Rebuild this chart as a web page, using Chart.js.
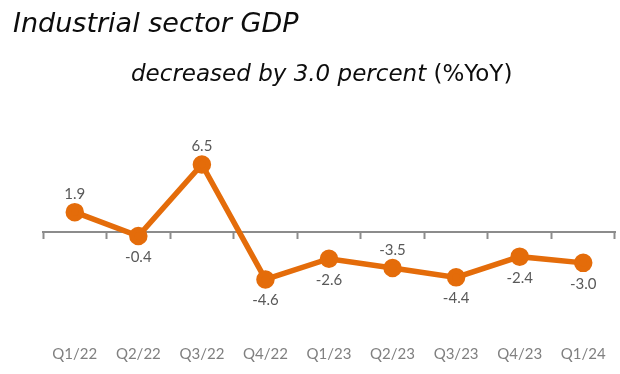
<!DOCTYPE html>
<html>
<head>
<meta charset="utf-8">
<script src="https://cdn.jsdelivr.net/npm/chart.js@4.4.1/dist/chart.umd.min.js"></script>
<style>
  html, body { margin: 0; padding: 0; background: #fff; }
  #wrap { position: relative; width: 620px; height: 374px; overflow: hidden; }
  #chart { position: absolute; left: 0; top: 0; }
  .t1 { position: absolute; left: 13px; top: 9px; font: oblique 27px/1 "DejaVu Sans", sans-serif; color: #0d0d0d; white-space: nowrap; }
  .t2 { position: absolute; left: 131px; top: 62px; font: oblique 23px/1 "DejaVu Sans", sans-serif; color: #0d0d0d; white-space: nowrap; }
  .t2 span { font-style: normal; }
</style>
</head>
<body>
<div id="wrap">
  <canvas id="chart" width="620" height="374"></canvas>
  <div class="t1">Industrial sector GDP</div>
  <div class="t2">decreased by 3.0 percent <span>(%YoY)</span></div>
</div>
<script>
var quarters = ['Q1/22', 'Q2/22', 'Q3/22', 'Q4/22', 'Q1/23', 'Q2/23', 'Q3/23', 'Q4/23', 'Q1/24'];
var gdpYoY = [1.9, -0.4, 6.5, -4.6, -2.6, -3.5, -4.4, -2.4, -3.0];
var labelSide = ['above', 'below', 'above', 'below', 'below', 'above', 'below', 'below', 'below'];

var orange = '#E46C0A';
var axisGrey = '#8c8c8c';

// value labels next to each point (no datalabels plugin here)
var pointLabels = {
    id: 'pointLabels',
    afterDatasetsDraw: function (chart) {
        var ctx = chart.ctx;
        var meta = chart.getDatasetMeta(0);
        ctx.save();
        ctx.font = '15px Lato, sans-serif';
        ctx.fillStyle = '#595959';
        ctx.textAlign = 'center';
        ctx.textBaseline = 'middle';
        meta.data.forEach(function (pt, i) {
            var dy = labelSide[i] == 'above' ? -18 : 21;
            ctx.fillText(gdpYoY[i].toFixed(1), pt.x, pt.y + dy);
        });
        ctx.restore();
    }
};

var chart = new Chart(document.getElementById('chart').getContext('2d'), {
    type: 'line',
    data: {
        labels: quarters,
        datasets: [{
            data: gdpYoY,
            borderColor: orange,
            backgroundColor: orange,
            borderWidth: 5.5,
            pointRadius: 6.5,
            pointHoverRadius: 6.5,
            tension: 0,
            clip: false,
            xAxisID: 'x'
        }]
    },
    options: {
        responsive: false,
        animation: false,
        events: [],
        layout: { autoPadding: false, padding: { top: 149, left: 43, right: 5, bottom: 2.6 } },
        plugins: {
            legend: { display: false },
            tooltip: { enabled: false }
        },
        scales: {
            y: {
                display: false,
                min: -10.2,
                max: 8
            },
            x: {
                type: 'category',
                position: { y: 0 },
                offset: true,
                grid: {
                    offset: true,
                    drawOnChartArea: false,
                    drawTicks: true,
                    tickLength: 6,
                    tickWidth: 2,
                    tickColor: axisGrey
                },
                border: { display: true, color: axisGrey, width: 2 },
                ticks: { display: false }
            },
            xb: {
                type: 'category',
                position: 'bottom',
                offset: true,
                grid: { display: false, drawTicks: false },
                border: { display: false },
                ticks: {
                    color: '#808080',
                    padding: 8,
                    maxRotation: 0,
                    autoSkip: false,
                    font: { family: 'Lato', size: 15 }
                }
            }
        }
    },
    plugins: [pointLabels]
});
</script>
</body>
</html>
